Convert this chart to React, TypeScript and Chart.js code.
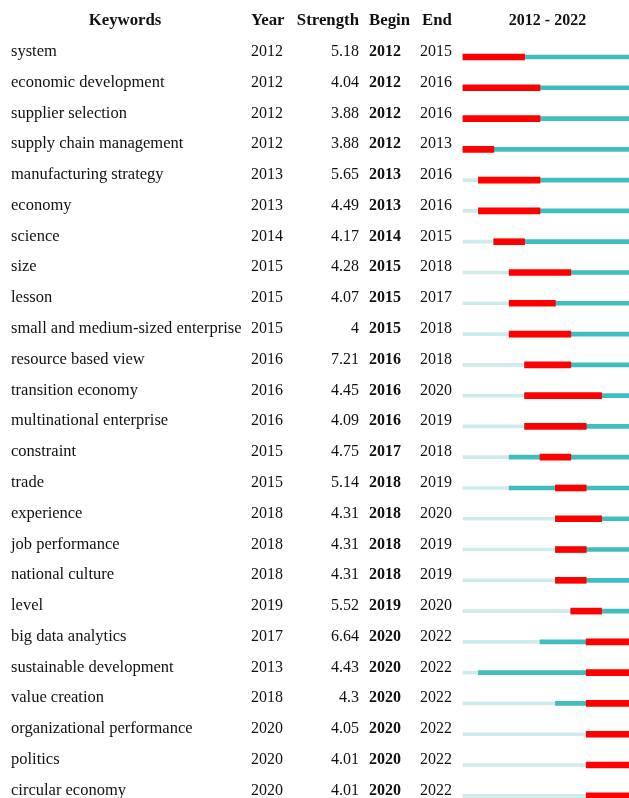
import React, { useEffect, useRef } from "react";
import { Chart, registerables } from "chart.js";

Chart.register(...registerables);

const keywords = [
  "system",
  "economic development",
  "supplier selection",
  "supply chain management",
  "manufacturing strategy",
  "economy",
  "science",
  "size",
  "lesson",
  "small and medium-sized enterprise",
  "resource based view",
  "transition economy",
  "multinational enterprise",
  "constraint",
  "trade",
  "experience",
  "job performance",
  "national culture",
  "level",
  "big data analytics",
  "sustainable development",
  "value creation",
  "organizational performance",
  "politics",
  "circular economy",
];
const years = [2012, 2012, 2012, 2012, 2013, 2013, 2014, 2015, 2015, 2015, 2016, 2016, 2016, 2015, 2015, 2018, 2018, 2018, 2019, 2017, 2013, 2018, 2020, 2020, 2020];
const strengths = [5.18, 4.04, 3.88, 3.88, 5.65, 4.49, 4.17, 4.28, 4.07, 4, 7.21, 4.45, 4.09, 4.75, 5.14, 4.31, 4.31, 4.31, 5.52, 6.64, 4.43, 4.3, 4.05, 4.01, 4.01];
const begins = [2012, 2012, 2012, 2012, 2013, 2013, 2014, 2015, 2015, 2015, 2016, 2016, 2016, 2017, 2018, 2018, 2018, 2018, 2019, 2020, 2020, 2020, 2020, 2020, 2020];
const ends = [2015, 2016, 2016, 2013, 2016, 2016, 2015, 2018, 2017, 2018, 2018, 2020, 2019, 2018, 2019, 2020, 2019, 2019, 2020, 2022, 2022, 2022, 2022, 2022, 2022];
const headers = ["Keywords", "Year", "Strength", "Begin", "End"];
const startYear = 2012;
const endYear = 2022;

const SERIF = "'Liberation Serif', 'Times New Roman', serif";

export default function App() {
  const ref = useRef<HTMLCanvasElement>(null);

  useEffect(() => {
    const textPlugin = {
      id: "burstText",
      afterDraw(chart: any) {
        const ctx = chart.ctx as CanvasRenderingContext2D;
        const yS = chart.scales.y;
        ctx.save();
        ctx.fillStyle = "#111";
        ctx.textBaseline = "alphabetic";
        const bold = "bold 16px " + SERIF;
        const boldWide = "bold 16.8px " + SERIF;
        const reg = "16px " + SERIF;
        const regWide = "16.5px " + SERIF;
        // header
        const hy = 25;
        ctx.font = boldWide;
        ctx.textAlign = "center";
        ctx.fillText(headers[0], 125, hy);
        ctx.textAlign = "left";
        ctx.fillText(headers[1], 251, hy);
        ctx.textAlign = "right";
        ctx.fillText(headers[2], 359, hy);
        ctx.textAlign = "left";
        ctx.fillText(headers[3], 369, hy);
        ctx.fillText(headers[4], 422, hy);
        ctx.font = bold;
        ctx.textAlign = "center";
        ctx.fillText(`${startYear} - ${endYear}`, 547.5, hy);
        // rows
        keywords.forEach((k, i) => {
          const y = yS.getPixelForValue(i) - 1;
          ctx.font = regWide;
          ctx.textAlign = "left";
          ctx.fillText(k, 11, y);
          ctx.font = reg;
          ctx.fillText(String(years[i]), 251, y);
          ctx.textAlign = "right";
          ctx.fillText(String(strengths[i]), 359, y);
          ctx.textAlign = "left";
          ctx.font = bold;
          ctx.fillText(String(begins[i]), 369, y);
          ctx.font = reg;
          ctx.fillText(String(ends[i]), 420, y);
        });
        ctx.restore();
      },
    };

    const chart = new Chart(ref.current as HTMLCanvasElement, {
      type: "bar",
      data: {
        labels: keywords,
        datasets: [
          {
            label: "burst",
            data: begins.map((b, i) => [b, ends[i] + 1]) as any,
            backgroundColor: "#FF0000",
            barThickness: 6,
            order: 0,
          },
          {
            label: "active",
            data: years.map((y) => [y, endYear + 1]) as any,
            backgroundColor: "#40BEBF",
            barThickness: 4,
            order: 1,
          },
          {
            label: "before",
            data: years.map((y) => [startYear, y]) as any,
            backgroundColor: "#CDEBEB",
            barThickness: 3,
            order: 2,
          },
        ],
      },
      options: {
        indexAxis: "y",
        responsive: false,
        maintainAspectRatio: false,
        animation: false,
        layout: { padding: { left: 463, right: 0.6, top: 57, bottom: 2.2 } },
        plugins: { legend: { display: false }, tooltip: { enabled: false } },
        scales: {
          x: { type: "linear", min: startYear, max: endYear + 1, display: false },
          y: { type: "category", offset: false, display: false, grid: { display: false } },
        },
        datasets: { bar: { grouped: false, borderSkipped: false, borderWidth: 0, clip: false } as any },
      } as any,
      plugins: [textPlugin],
    });
    return () => chart.destroy();
  }, []);

  return (
    <div
      style={{
        position: "fixed",
        left: 0,
        top: 0,
        width: 629,
        height: 798,
        overflow: "hidden",
        background: "#fff",
      }}
    >
      <canvas ref={ref} width={633} height={798} style={{ display: "block" }} />
    </div>
  );
}
